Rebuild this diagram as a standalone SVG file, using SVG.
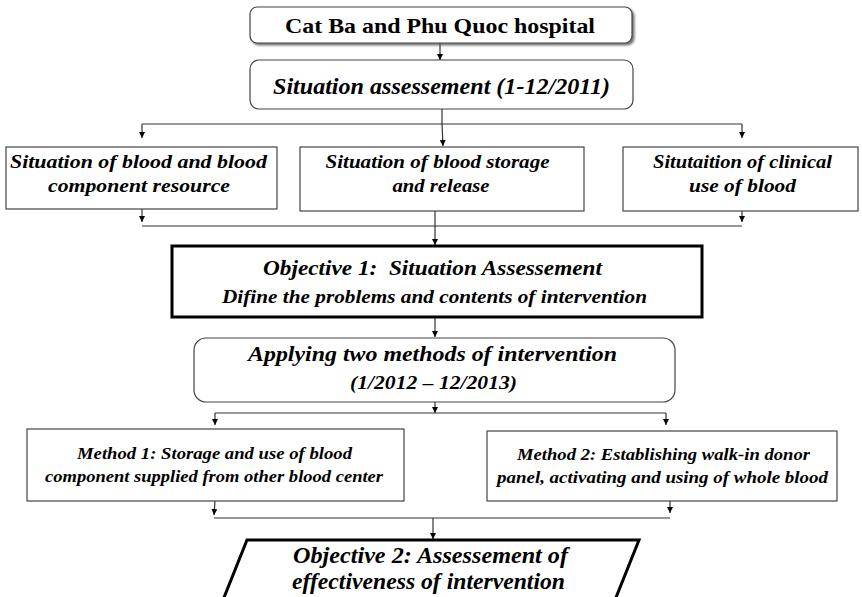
<svg xmlns="http://www.w3.org/2000/svg" width="862" height="597" viewBox="0 0 862 597">
<defs>
<marker id="ah" viewBox="0 0 10 10" refX="10" refY="5" markerWidth="6" markerHeight="6" orient="auto" markerUnits="userSpaceOnUse">
<path d="M0,0 L10,5 L0,10 z" fill="#000"/>
</marker>
<filter id="sh" x="-5%" y="-20%" width="112%" height="150%">
<feDropShadow dx="2" dy="2" stdDeviation="1" flood-color="#555" flood-opacity="0.8"/>
</filter>
</defs>
<style>
text{font-family:"Liberation Serif","Times New Roman",serif;font-weight:bold;font-style:italic;fill:#000;text-anchor:middle}
text.up{font-style:normal}
.box{fill:#fff;stroke:#444;stroke-width:1.2}
.thick{fill:#fff;stroke:#000;stroke-width:3}
.ln{fill:none;stroke:#333;stroke-width:1.2}
.ar{fill:none;stroke:#333;stroke-width:1.2;marker-end:url(#ah)}
</style>
<rect width="862" height="597" fill="#fff"/>
<g id="connectors">
<line class="ar" x1="440" y1="43" x2="440" y2="60"/>
<line class="ln" x1="442" y1="109" x2="442" y2="124"/>
<line class="ln" x1="142" y1="124" x2="742" y2="124"/>
<line class="ar" x1="142" y1="124" x2="142" y2="138"/>
<line class="ar" x1="442" y1="124" x2="443" y2="146"/>
<line class="ar" x1="742" y1="124" x2="742" y2="138"/>
<line class="ar" x1="142" y1="209" x2="142" y2="222"/>
<line class="ar" x1="742" y1="211" x2="742" y2="222"/>
<line class="ln" x1="142" y1="226" x2="742" y2="226"/>
<line class="ar" x1="435" y1="211" x2="435" y2="245"/>
<line class="ar" x1="435" y1="317" x2="435" y2="337"/>
<line class="ar" x1="435" y1="402" x2="435" y2="413"/>
<line class="ln" x1="215" y1="413" x2="666" y2="413"/>
<line class="ar" x1="215" y1="413" x2="215" y2="425"/>
<line class="ar" x1="666" y1="413" x2="666" y2="425"/>
<line class="ar" x1="215" y1="501" x2="214" y2="515"/>
<line class="ar" x1="670" y1="501" x2="670" y2="513"/>
<line class="ln" x1="214" y1="518" x2="670" y2="518"/>
<line class="ar" x1="433" y1="518" x2="433" y2="539"/>
</g>
<g id="n-hospital">
<rect x="250" y="7" width="382" height="36" rx="7" class="box" filter="url(#sh)"/>
<text class="up" x="440" y="33" font-size="22" textLength="310" lengthAdjust="spacingAndGlyphs">Cat Ba and Phu Quoc hospital</text>
</g>
<g id="n-situation">
<rect x="250" y="60" width="383" height="49" rx="9" class="box"/>
<text x="441.5" y="94" font-size="23" textLength="337" lengthAdjust="spacingAndGlyphs">Situation assessement (1-12/2011)</text>
</g>
<g id="n-sit1">
<rect x="6" y="147" width="271" height="62" class="box"/>
<text x="138.5" y="168" font-size="19" textLength="257" lengthAdjust="spacingAndGlyphs">Situation of blood and blood</text>
<text x="139" y="192" font-size="19" textLength="182" lengthAdjust="spacingAndGlyphs">component resource</text>
</g>
<g id="n-sit2">
<rect x="300" y="147" width="284" height="64" class="box"/>
<text x="437.5" y="168" font-size="19" textLength="224" lengthAdjust="spacingAndGlyphs">Situation of blood storage</text>
<text x="441" y="192" font-size="19" textLength="97" lengthAdjust="spacingAndGlyphs">and release</text>
</g>
<g id="n-sit3">
<rect x="623" y="147" width="235" height="64" class="box"/>
<text x="742.5" y="168" font-size="19" textLength="179" lengthAdjust="spacingAndGlyphs">Situtaition of clinical</text>
<text x="742.5" y="192" font-size="19" textLength="107" lengthAdjust="spacingAndGlyphs">use of blood</text>
</g>
<g id="n-obj1">
<rect x="172" y="246" width="530" height="71" class="thick"/>
<text x="432.5" y="275" font-size="22" textLength="339" lengthAdjust="spacingAndGlyphs" xml:space="preserve">Objective 1:  Situation Assessement</text>
<text x="434.5" y="303" font-size="19" textLength="425" lengthAdjust="spacingAndGlyphs">Difine the problems and contents of intervention</text>
</g>
<g id="n-applying">
<rect x="194" y="338" width="481" height="64" rx="12" class="box"/>
<text x="432.5" y="361" font-size="22" textLength="369" lengthAdjust="spacingAndGlyphs">Applying two methods of intervention</text>
<text x="433.5" y="389" font-size="18" textLength="167" lengthAdjust="spacingAndGlyphs">(1/2012 – 12/2013)</text>
</g>
<g id="n-method1">
<rect x="27" y="429" width="377" height="72" class="box"/>
<text x="214.5" y="459" font-size="16" textLength="275" lengthAdjust="spacingAndGlyphs">Method 1: Storage and use of blood</text>
<text x="214" y="482" font-size="16" textLength="338" lengthAdjust="spacingAndGlyphs">component supplied from other blood center</text>
</g>
<g id="n-method2">
<rect x="487" y="431" width="350" height="70" class="box"/>
<text x="663.5" y="460" font-size="16" textLength="293" lengthAdjust="spacingAndGlyphs">Method 2: Establishing walk-in donor</text>
<text x="662.5" y="483" font-size="16" textLength="331" lengthAdjust="spacingAndGlyphs">panel, activating and using of whole blood</text>
</g>
<g id="n-obj2">
<polygon points="247,540 639,540 611,610 219,610" class="thick"/>
<text x="430.5" y="563" font-size="23" textLength="275" lengthAdjust="spacingAndGlyphs">Objective 2: Assessement of</text>
<text x="428.5" y="589" font-size="23" textLength="273" lengthAdjust="spacingAndGlyphs">effectiveness of intervention</text>
</g>
</svg>
